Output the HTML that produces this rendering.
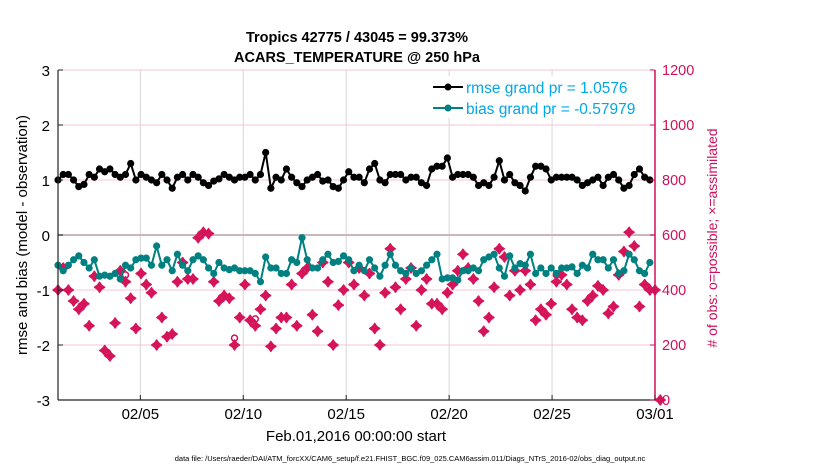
<!DOCTYPE html>
<html><head><meta charset="utf-8"><style>
body{margin:0;background:#fff;font-family:"Liberation Sans",sans-serif}
svg text{font-family:"Liberation Sans",sans-serif}
</style></head><body>
<svg id="chart" width="830" height="470" viewBox="0 0 830 470">
<text x="357" y="42" text-anchor="middle" font-size="14.5" font-weight="bold">Tropics 42775 / 43045 = 99.373%</text>
<text x="357" y="62" text-anchor="middle" font-size="14.5" font-weight="bold">ACARS_TEMPERATURE @ 250 hPa</text>
<g id="grid"></g>
<g id="marks"></g>
<g id="axes"></g>
<text transform="translate(27,235) rotate(-90)" text-anchor="middle" font-size="15">rmse and bias (model - observation)</text>
<text transform="translate(717,238) rotate(-90)" text-anchor="middle" font-size="14" fill="#d0105a"># of obs: o=possible; ×=assimilated</text>
<text x="356" y="441" text-anchor="middle" font-size="15">Feb.01,2016 00:00:00 start</text>
<text x="410" y="461" text-anchor="middle" font-size="7.5">data file: /Users/raeder/DAI/ATM_forcXX/CAM6_setup/f.e21.FHIST_BGC.f09_025.CAM6assim.011/Diags_NTrS_2016-02/obs_diag_output.nc</text>
<g>
<rect x="420" y="76" width="232" height="42" fill="#fff"/>
<line x1="433" y1="87" x2="463" y2="87" stroke="#000" stroke-width="2"/><circle cx="448" cy="87" r="3.5" fill="#000"/>
<text x="466" y="93" font-size="15.5" fill="#00a8e8">rmse grand pr = 1.0576</text>
<line x1="433" y1="108" x2="463" y2="108" stroke="#008080" stroke-width="2"/><circle cx="448" cy="108" r="3.5" fill="#008080"/>
<text x="466" y="114" font-size="15.5" fill="#00a8e8">bias grand pr = -0.57979</text>
</g>
</svg>
<script>
const rmse=[1.0,1.1,1.1,1.0,0.88,0.92,1.1,1.05,1.2,1.15,1.2,1.1,1.05,1.1,1.3,1.0,1.1,1.05,1.0,0.95,1.1,1.0,0.85,1.05,1.1,1.0,1.1,1.05,0.95,0.9,0.98,1.02,1.1,1.05,1.0,1.05,1.05,1.1,1.0,1.1,1.5,0.85,1.05,1.0,1.2,1.05,0.95,0.88,1.0,1.05,1.1,0.98,1.0,0.88,0.85,1.0,1.15,1.05,
1.05,0.95,1.2,1.3,1.0,0.95,1.1,1.1,1.1,1.0,1.05,1.05,0.95,0.9,1.2,1.25,1.25,1.4,1.05,1.1,1.1,1.1,1.05,0.9,0.95,0.9,1.05,1.35,1.0,1.1,0.95,0.9,0.8,1.05,1.25,1.25,1.2,1.0,1.05,1.05,1.05,1.05,1.0,0.9,0.95,1.0,1.05,0.9,1.05,1.1,1.0,0.85,0.9,1.1,1.2,1.05,1.0];
const bias=[-0.55,-0.65,-0.55,-0.45,-0.38,-0.5,-0.6,-0.45,-0.75,-0.73,-0.75,-0.7,-0.8,-0.55,-0.6,-0.45,-0.42,-0.42,-0.55,-0.2,-0.55,-0.45,-0.65,-0.35,-0.55,-0.65,-0.45,-0.38,-0.45,-0.6,-0.7,-0.5,-0.6,-0.63,-0.6,-0.65,-0.65,-0.65,-0.7,-0.85,-0.4,-0.6,-0.6,-0.7,-0.7,-0.45,-0.5,-0.05,-0.45,-0.6,-0.6,-0.45,-0.35,-0.5,-0.48,-0.38,-0.45,-0.65,
-0.55,-0.65,-0.45,-0.6,-0.75,-0.55,-0.35,-0.55,-0.65,-0.7,-0.6,-0.7,-0.65,-0.55,-0.45,-0.35,-0.8,-0.78,-0.78,-0.82,-0.65,-0.65,-0.6,-0.65,-0.45,-0.4,-0.35,-0.6,-0.75,-0.38,-0.6,-0.52,-0.55,-0.35,-0.7,-0.6,-0.7,-0.6,-0.7,-0.6,-0.6,-0.58,-0.7,-0.55,-0.6,-0.35,-0.45,-0.45,-0.6,-0.45,-0.7,-0.65,-0.35,-0.45,-0.65,-0.7,-0.5];
const nAssim=[400,480,400,360,330,350,270,450,410,180,160,280,470,430,370,260,460,420,390,200,300,230,240,430,500,440,440,590,610,605,430,360,380,370,200,300,420,290,270,330,380,195,260,300,300,420,270,460,480,310,250,500,430,200,345,400,500,420,
480,380,460,260,200,390,550,410,330,440,480,270,400,440,350,350,330,390,420,470,530,480,440,360,250,300,410,550,520,380,470,400,470,420,290,330,310,350,430,455,420,330,300,290,360,380,415,400,315,340,455,540,610,560,340,420,400,400,0];
const nPoss=nAssim.map((v,i)=>[13,38,96,34].includes(i)?v+25:v);
const yTicks=[-3,-2,-1,0,1,2,3];
const rTicks=[0,200,400,600,800,1000,1200];
const xTickDays=[4,9,14,19,24,29];
const xTickLabels=['02/05','02/10','02/15','02/20','02/25','03/01'];
const NS='http://www.w3.org/2000/svg';
const X0=58,X1=655,Y0=70,Y1=400;
const xs=d=>X0+(X1-X0)*d/29;
const yl=v=>Y1-(v+3)*(Y1-Y0)/6;
const yr=v=>Y1-v*(Y1-Y0)/1200;
const dayOf=i=>i*28.75/(rmse.length-1);
function mk(tag,attrs,parent){const e=document.createElementNS(NS,tag);for(const k in attrs)e.setAttribute(k,attrs[k]);parent.appendChild(e);return e;}
const grid=document.getElementById('grid'),marks=document.getElementById('marks'),axes=document.getElementById('axes');
mk('rect',{x:X0,y:Y0,width:X1-X0,height:Y1-Y0,fill:'#fff'},grid);
xTickDays.forEach(d=>{const l=mk('line',{x1:xs(d),x2:xs(d),y1:Y0,y2:Y1,stroke:'#d6d6d6','stroke-width':1},grid);

});
yTicks.forEach(v=>{if(v===0)return;const l=mk('line',{x1:X0,x2:X1,y1:yl(v),y2:yl(v),stroke:'#f4c6d6','stroke-width':1},grid);

});
const z=mk('line',{x1:X0,x2:X1,y1:yl(0),y2:yl(0),stroke:'#c8b8bc','stroke-width':2},grid);


nPoss.forEach((v,i)=>{const c=mk('circle',{cx:xs(dayOf(i)),cy:yr(v),r:3,fill:'none',stroke:'#d0105a','stroke-width':1.5},marks);

});
nAssim.forEach((v,i)=>{const x=xs(dayOf(i)),y=yr(v);const p=mk('path',{d:`M${x},${y-5}L${x+2},${y-2}L${x+5},${y}L${x+2},${y+2}L${x},${y+5}L${x-2},${y+2}L${x-5},${y}L${x-2},${y-2}Z`,fill:'#d6145a',stroke:'#d6145a','stroke-width':1.5,'stroke-linejoin':'round'},marks);

});
function series(vals,color,name){
 const d=vals.map((v,i)=>(i?'L':'M')+xs(dayOf(i)).toFixed(1)+','+yl(v).toFixed(1)).join('');
 const p=mk('path',{d:d,fill:'none',stroke:color,'stroke-width':2},marks);
 
 
 vals.forEach((v,i)=>{const c=mk('circle',{cx:xs(dayOf(i)),cy:yl(v),r:3.6,fill:color},marks);
 
 });
}
series(bias,'#008080','bias');
series(rmse,'#000','rmse');
mk('line',{x1:X0,x2:X0,y1:Y0,y2:Y1,stroke:'#222','stroke-width':1.2},axes);
mk('line',{x1:X0,x2:X1,y1:Y1,y2:Y1,stroke:'#222','stroke-width':1.2},axes);
mk('line',{x1:X1,x2:X1,y1:Y0,y2:Y1,stroke:'#d0105a','stroke-width':1.5},axes);
yTicks.forEach(v=>{mk('line',{x1:X0,x2:X0+5,y1:yl(v),y2:yl(v),stroke:'#222'},axes);
const t=mk('text',{x:X0-8,y:yl(v)+6,'text-anchor':'end','font-size':15},axes);t.textContent=v;

});
rTicks.forEach(v=>{mk('line',{x1:X1-5,x2:X1,y1:yr(v),y2:yr(v),stroke:'#d0105a'},axes);
const t=mk('text',{x:X1+7,y:yr(v)+5,'font-size':14.5,fill:'#d0105a'},axes);t.textContent=v;

});
xTickDays.forEach((d,i)=>{mk('line',{x1:xs(d),x2:xs(d),y1:Y1-5,y2:Y1,stroke:'#222'},axes);
const t=mk('text',{x:xs(d),y:Y1+19,'text-anchor':'middle','font-size':15},axes);t.textContent=xTickLabels[i];

});
</script>
</body></html>
